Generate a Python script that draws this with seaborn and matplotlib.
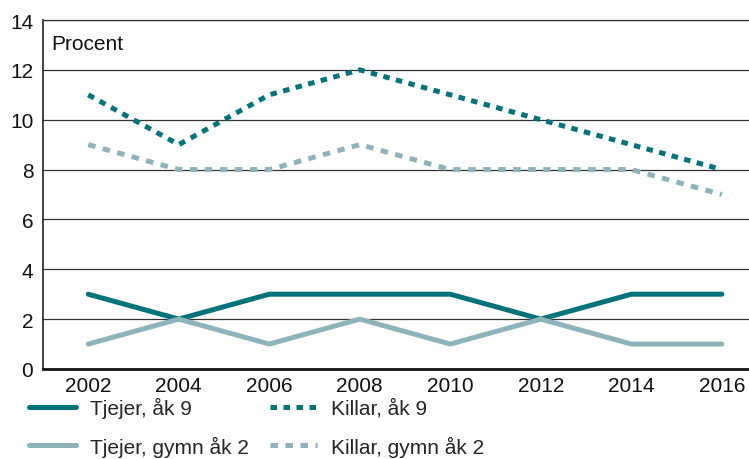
import pandas as pd
import matplotlib.pyplot as plt
import seaborn as sns

years = [2002, 2004, 2006, 2008, 2010, 2012, 2014, 2016]
tjejer_ak9 = [3, 2, 3, 3, 3, 2, 3, 3]
tjejer_gymn = [1, 2, 1, 2, 1, 2, 1, 1]
killar_ak9 = [11, 9, 11, 12, 11, 10, 9, 8]
killar_gymn = [9, 8, 8, 9, 8, 8, 8, 7]

dark = '#00737a'
light = '#8fb3ba'

series = [
    ('Tjejer, åk 9', tjejer_ak9, dark, '-'),
    ('Tjejer, gymn åk 2', tjejer_gymn, light, '-'),
    ('Killar, åk 9', killar_ak9, dark, (0, (1.3, 1.3))),
    ('Killar, gymn åk 2', killar_gymn, light, (0, (1.5, 1.5))),
]

sns.set_style('white')
plt.rcParams['font.family'] = ['Liberation Sans', 'DejaVu Sans']

fig = plt.figure(figsize=(7.49, 4.6), dpi=100)
ax = fig.add_axes([0.0574, 0.1957, 0.9426, 0.7586])

for label, vals, color, ls in series:
    df = pd.DataFrame({'År': years, 'Procent': vals})
    sns.lineplot(data=df, x='År', y='Procent', ax=ax, color=color,
                 linestyle=ls, linewidth=3.6, label=label,
                 solid_capstyle='round', dash_capstyle='butt')

ax.set_xlim(2001, 2016.6)
ax.set_ylim(0, 14)
ax.set_yticks(range(0, 15, 2))
ax.set_xticks(years)
ax.set_xlabel('')
ax.set_ylabel('')
ax.grid(axis='y', color='#333333', linewidth=0.9)
ax.set_axisbelow(True)
ax.spines['right'].set_visible(False)
ax.spines['top'].set_color('#333333')
ax.spines['top'].set_linewidth(0.9)
ax.spines['left'].set_color('#222222')
ax.spines['left'].set_linewidth(1.2)
ax.spines['bottom'].set_color('#111111')
ax.spines['bottom'].set_linewidth(2)
ax.tick_params(axis='both', length=0, labelsize=15, colors='#111111')
ax.tick_params(axis='y', pad=7)
ax.tick_params(axis='x', pad=5)

ax.text(0.012, 0.96, 'Procent', transform=ax.transAxes, fontsize=15,
        va='top', ha='left', color='#111111')

handles, labels = ax.get_legend_handles_labels()
ax.get_legend().remove()
fig.legend(handles, labels, loc='upper left', bbox_to_anchor=(0.039, 0.135),
           ncol=2, frameon=False, fontsize=15, handlelength=2.25,
           handletextpad=0.65, columnspacing=1.05, labelspacing=0.85,
           borderaxespad=0, borderpad=0)

fig.savefig('out.png', dpi=100)
